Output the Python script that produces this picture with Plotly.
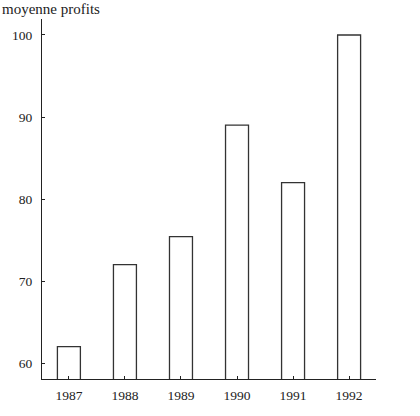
import plotly.graph_objects as go

years = ["1987", "1988", "1989", "1990", "1991", "1992"]
profits = [62, 72, 75.4, 89, 82, 100]
y_ticks = [60, 70, 80, 90, 100]

FONT = "Liberation Serif"
INK = "#222222"

fig = go.Figure(go.Bar(
    x=years, y=profits, width=0.41,
    marker=dict(color="white", line=dict(color="#333333", width=1.3)),
))

fig.update_layout(
    width=420, height=416,
    margin=dict(l=42, r=44, t=19, b=37),
    plot_bgcolor="white", paper_bgcolor="white",
    showlegend=False,
    font=dict(family=FONT, size=13, color=INK),
    xaxis=dict(
        range=[-0.48, 5.48], showline=True, linecolor=INK, linewidth=1.2,
        ticks="inside", ticklen=3, tickcolor=INK, showgrid=False, zeroline=False,
        ticklabelstandoff=4,
        tickfont=dict(family=FONT, size=13.5, color=INK),
    ),
    yaxis=dict(
        range=[58.05, 101.95], showline=True, linecolor=INK, linewidth=1.2,
        ticks="inside", ticklen=3, tickcolor=INK, showgrid=False, zeroline=False,
        tickvals=y_ticks, ticklabelstandoff=6,
        tickfont=dict(family=FONT, size=13.5, color=INK),
    ),
    annotations=[dict(
        text="moyenne profits", xref="paper", yref="paper",
        x=(0 - 42) / 334, y=(379 - 9) / 360, xanchor="left", yanchor="middle",
        showarrow=False, font=dict(family=FONT, size=15, color=INK),
    )],
)

fig.write_html("out.html")
